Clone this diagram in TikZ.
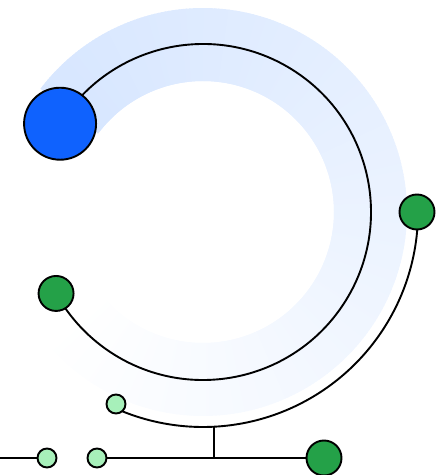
\documentclass[tikz,border=0pt]{standalone}
\usetikzlibrary{calc}
\definecolor{ringblue}{RGB}{208,226,255}
\definecolor{bluefill}{RGB}{15,98,254}
\definecolor{darkgreen}{RGB}{36,161,72}
\definecolor{lightgreen}{RGB}{167,240,186}
\tikzset{
  dot/.style={circle, draw=black, line width=1.9pt, inner sep=0pt},
  bigdot/.style={dot, fill=bluefill, minimum size=72pt},
  gdot/.style={dot, fill=darkgreen, minimum size=35pt},
  ldot/.style={dot, fill=lightgreen, minimum size=19pt},
  wire/.style={draw=black, line width=1.9pt},
}
\begin{document}
\begin{tikzpicture}[x=1pt,y=1pt]
\useasboundingbox (0,0) rectangle (438,475);
\coordinate (C) at (203,263);
% gradient ring
\foreach \d in {0,...,295}{
  \pgfmathsetmacro\t{max(0,85-0.3*\d)}
  \pgfmathsetmacro\sa{143-\d}
  \pgfmathsetmacro\ea{143-\d-1.6}
  \draw[line width=73pt, color=ringblue!\t!white] (C) ++(\sa:167.5) arc[start angle=\sa, end angle=\ea, radius=167.5];
}
% inner black arc
\draw[wire] (C) ++(148.3:168) arc[start angle=148.3, end angle=-151, radius=168];
\node[bigdot] (blue) at ($(C)+(148.3:168)$) {};
\node[gdot] (gleft) at ($(C)+(209:168)$) {};
% outer arc
\coordinate (obot) at ($(C)+(-87.07:215)$);
\draw[wire] (C) ++(0:215) arc[start angle=0, end angle=-112, radius=215] -- (116,71);
\node[gdot] (gright) at (417,263) {};
\node[ldot] (lend) at (116,71) {};
% bottom bus
\coordinate (bus) at (214,17);
\coordinate (leftend) at (0,17);
\node[ldot] (l2) at (97,17) {};
\node[ldot] (l1) at (47,17) {};
\node[gdot] (gbot) at (324,17) {};
\draw[wire] (obot) -- (bus);
\draw[draw=black, line width=2.3pt] (l2) -- (gbot);
\draw[draw=black, line width=1.4pt] (leftend) -- (l1);
\end{tikzpicture}
\end{document}
